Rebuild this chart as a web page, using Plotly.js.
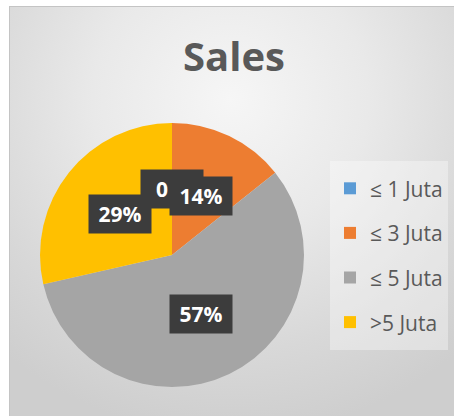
<!DOCTYPE html>
<html>
<head>
<meta charset="utf-8">
<script src="https://cdn.plot.ly/plotly-3.0.1.min.js"></script>
<style>
  html, body { margin: 0; padding: 0; background: #ffffff; }
  #wrap { position: relative; width: 454px; height: 416px; overflow: hidden; background: #ffffff; }
  #frame { position: absolute; left: 9px; top: 6px; width: 460px; height: 420px;
    border: 1px solid #c4c4c4;
    background: radial-gradient(ellipse 75% 80% at 48% 22%, #f6f6f6 0%, #e9e9e9 40%, #d8d8d8 75%, #cecece 100%); }
  #chart { position: absolute; left: 0; top: 0; width: 454px; height: 416px; }
</style>
</head>
<body>
<div id="wrap">
  <div id="frame"></div>
  <div id="chart"></div>
</div>
<script>
// Data
const categories = ['\u2264 1 Juta', '\u2264 3 Juta', '\u2264 5 Juta', '>5 Juta'];
const counts = [0, 1, 4, 2];
const sliceColors = ['#5b9bd5', '#ed7d31', '#a5a5a5', '#ffc000'];
const chartTitle = 'Sales';

// Layout geometry (pixels)
const W = 454, H = 416;
const cx = 172, cy = 255, R = 132;
const dom = {
  x: [(cx - R) / W, (cx + R) / W],
  y: [(H - cy - R) / H, (H - cy + R) / H]
};

const total = counts.reduce((a, b) => a + b, 0);

// Labels placed at half radius along each slice's middle angle (clockwise from 12 o'clock)
const annotations = [];
let cum = 0;
counts.forEach((v, i) => {
  const frac = v / total;
  const mid = (cum + frac / 2) * 2 * Math.PI;
  cum += frac;
  const px = cx + 0.5 * R * Math.sin(mid);
  const py = cy - 0.5 * R * Math.cos(mid);
  const pct = Math.round(frac * 100);
  // the zero slice's label is partly hidden behind its neighbour: only "0" shows
  const isZero = v === 0;
  annotations.push({
    xref: 'paper', yref: 'paper',
    x: px / W, y: 1 - py / H,
    xanchor: 'center', yanchor: 'middle',
    text: isZero ? '<b>&nbsp;&nbsp;' + pct + '</b>' : '<b>' + pct + '%</b>',
    showarrow: false,
    font: { family: 'Open Sans, sans-serif', size: 21, color: '#ffffff' },
    bgcolor: '#3c3c3c',
    borderpad: 4,
    width: 54, height: 30,
    align: isZero ? 'left' : 'center'
  });
});

const trace = {
  type: 'pie',
  labels: categories.map(c => '<span style="font-size:21px;baseline-shift:4px">' + c + '</span>'),
  values: counts,
  sort: false,
  direction: 'clockwise',
  rotation: 0,
  marker: { colors: sliceColors, line: { width: 0 } },
  textinfo: 'none',
  hoverinfo: 'none',
  domain: dom,
  showlegend: true
};

const layout = {
  width: W, height: H,
  margin: { l: 0, r: 0, t: 0, b: 0 },
  paper_bgcolor: 'rgba(0,0,0,0)',
  plot_bgcolor: 'rgba(0,0,0,0)',
  title: {
    text: '<b>' + chartTitle + '</b>',
    font: { family: 'Open Sans, sans-serif', size: 40, color: '#595959' },
    x: 234 / W, xanchor: 'center',
    y: 1 - 57 / H, yanchor: 'middle',
    xref: 'paper', yref: 'container'
  },
  legend: {
    x: 330 / W, xanchor: 'left',
    y: 1 - 161 / H, yanchor: 'top',
    bgcolor: 'rgba(255,255,255,0.35)',
    font: { family: 'Open Sans, sans-serif', size: 32, color: '#595959' },
    traceorder: 'normal'
  },
  annotations: annotations,
  showlegend: true
};

Plotly.newPlot('chart', [trace], layout, { displayModeBar: false, staticPlot: true });
</script>
</body>
</html>
